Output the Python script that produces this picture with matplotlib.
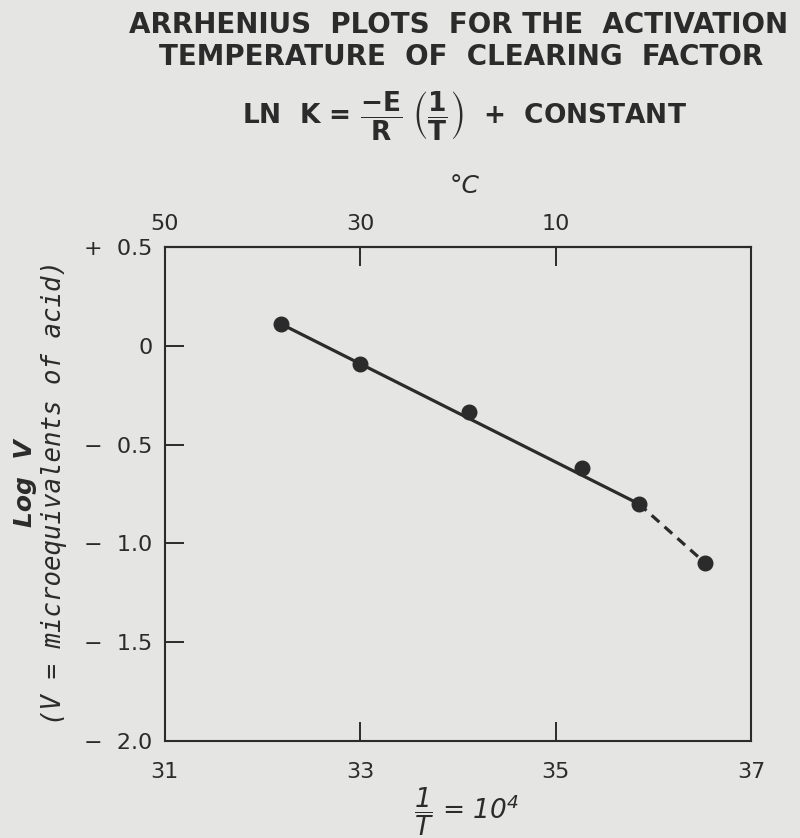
import matplotlib
matplotlib.use("Agg")
import matplotlib.pyplot as plt

# inverse temperature (1/T x 10^4) and log V
inv_t = [32.19, 33.0, 34.11, 35.27, 35.85, 36.53]
log_v = [0.11, -0.09, -0.335, -0.62, -0.80, -1.10]

# fitted straight line and the dashed extension
fit_x = [32.19, 35.85]
fit_y = [0.11, -0.80]
ext_x = [35.85, 36.53]
ext_y = [-0.80, -1.10]

x_ticks = [31, 33, 35, 37]
y_ticks = [0.5, 0.0, -0.5, -1.0, -1.5, -2.0]
y_labels = ["+  0.5", "0", "\u2212  0.5", "\u2212  1.0", "\u2212  1.5", "\u2212  2.0"]
celsius_pos = [31, 33, 35]
celsius_labels = ["50", "30", "10"]

bg = "#e5e5e3"
ink = "#2b2b2b"

plt.rcParams["font.family"] = ["DejaVu Sans"]
plt.rcParams["mathtext.fontset"] = "dejavusans"
plt.rcParams["text.color"] = ink

fig = plt.figure(figsize=(8, 8.38), dpi=100, facecolor=bg)
ax = fig.add_axes([0.206, 0.1158, 0.733, 0.5895], facecolor=bg)

ax.plot(fit_x, fit_y, color=ink, lw=2.3, solid_capstyle="round")
ax.plot(ext_x, ext_y, color=ink, lw=2.3, ls=(0, (3.2, 2.2)))
ax.plot(inv_t, log_v, ls="none", marker="o", ms=10.5, color=ink)

ax.set_xlim(31, 37)
ax.set_ylim(-2.0, 0.5)
ax.set_xticks(x_ticks)
ax.set_yticks(y_ticks)
ax.set_yticklabels(y_labels)
ax.tick_params(direction="in", length=14, width=1.4, colors=ink,
               labelsize=16, pad=9)
ax.tick_params(axis="x", pad=15)
for s in ax.spines.values():
    s.set_linewidth(1.5)
    s.set_color(ink)

top = ax.secondary_xaxis("top")
top.set_xticks(celsius_pos)
top.set_xticklabels(celsius_labels)
top.tick_params(direction="in", length=14, width=1.4, colors=ink,
                labelsize=16, pad=9)
top.spines["top"].set_linewidth(1.5)

fig.text(0.581, 0.778, "\u00b0C", ha="center", va="center",
         fontsize=18, fontstyle="italic")
fig.text(0.583, 0.031,
         r"$\dfrac{\mathregular{1}}{\mathregular{T}}$ = 10$^{\mathregular{4}}$",
         ha="center", va="center", fontsize=19, fontstyle="italic")

fig.text(0.031, 0.4236, "Log  V", rotation=90, ha="center", va="center",
         fontsize=18, fontstyle="italic", fontweight="bold")
fig.text(0.067, 0.4117, "(V = microequivalents of acid)", rotation=90,
         ha="center", va="center", fontsize=18.5, fontstyle="italic",
         family="DejaVu Sans Mono")

fig.text(0.573, 0.970, "ARRHENIUS  PLOTS  FOR THE  ACTIVATION",
         ha="center", va="center", fontsize=20, fontweight="bold")
fig.text(0.577, 0.932, "TEMPERATURE  OF  CLEARING  FACTOR",
         ha="center", va="center", fontsize=20, fontweight="bold")
fig.text(0.58, 0.862,
         r"LN  K = $\mathbf{\dfrac{-E}{R}}\ \left(\mathbf{\dfrac{1}{T}}\right)$  +  CONSTANT",
         ha="center", va="center", fontsize=19, fontweight="bold")

fig.savefig("out.png", dpi=100, facecolor=bg)
